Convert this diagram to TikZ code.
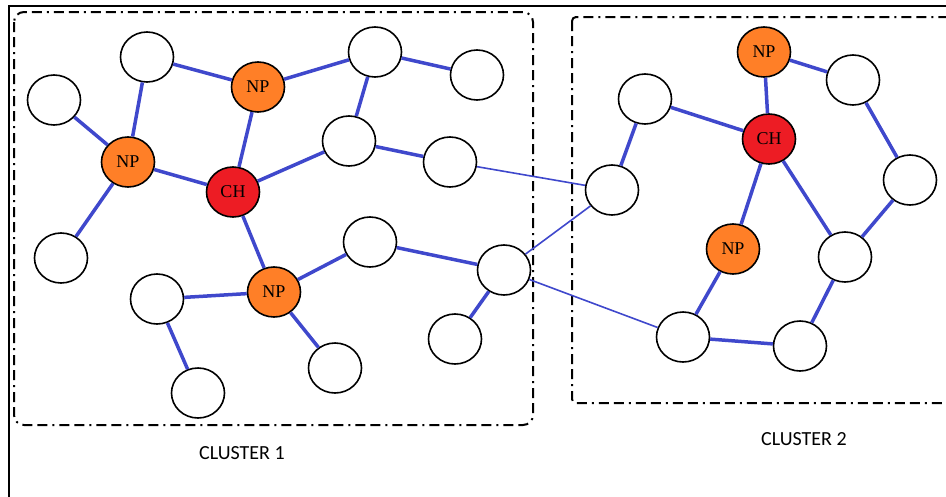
\documentclass[tikz,border=0pt]{standalone}
\usepackage{fontspec}
\setmainfont{Liberation Serif}
\newfontfamily\clusterfont{Carlito}
\usetikzlibrary{shapes.geometric}
\definecolor{edgeblue}{HTML}{3F48CC}
\definecolor{npfill}{HTML}{FF7F27}
\definecolor{chfill}{HTML}{ED1C24}
\tikzset{
  vertex/.style={ellipse,draw,fill=white,line width=1.6pt,minimum width=53pt,
    minimum height=50pt,inner sep=0pt,font=\fontsize{18}{18}\selectfont},
  np/.style={vertex,fill=npfill},
  ch/.style={vertex,fill=chfill},
  link/.style={draw=edgeblue,line width=3.5pt},
  farlink/.style={draw=edgeblue,line width=1.6pt},
  clusterbox/.style={line width=2pt,rounded corners=10pt,
    dash pattern=on 10pt off 5pt on 10pt off 5pt on 2pt off 5pt},
  clusterlabel/.style={font=\clusterfont\fontsize{20}{20}\selectfont}
}
\begin{document}
\begin{tikzpicture}[x=1pt,y=-1pt]
      \clip (0,0) rectangle (946,496);
      \draw[line width=2pt] (9,510) -- (9,6) -- (960,6);
      \draw[clusterbox] (14,12) rectangle (533,425);
      \draw[clusterbox,rounded corners=4pt] (572,17) rectangle (960,403);
      \node[clusterlabel] (c1) at (242,453) {CLUSTER 1};
      \node[clusterlabel] (c2) at (804,439) {CLUSTER 2};
      % cluster 1
      \draw
        (147,57) node[vertex] (0){}
        (54,100) node[vertex] (1){}
        (128,162) node[np] (2){NP}
        (258,87) node[np] (3){NP}
        (233,192) node[ch] (4){CH}
        (61,258) node[vertex] (5){}
        (375,52) node[vertex] (6){}
        (477,75) node[vertex] (7){}
        (349,141) node[vertex] (8){}
        (450,162) node[vertex] (9){}
        (370,242) node[vertex] (10){}
        (274,292) node[np] (11){NP}
        (157,299) node[vertex] (12){}
        (198,393) node[vertex] (13){}
        (335,368) node[vertex] (14){}
        (504,270) node[vertex] (15){}
        (455,339) node[vertex] (16){};
      % cluster 2
      \draw
        (612,190) node[vertex] (17){}
        (645,99) node[vertex] (18){}
        (764,52) node[np] (19){NP}
        (769,139) node[ch] (20){CH}
        (853,80) node[vertex] (21){}
        (910,180) node[vertex] (22){}
        (733,249) node[np] (23){NP}
        (845,257) node[vertex] (24){}
        (683,337) node[vertex] (25){}
        (800,346) node[vertex] (26){};
      \begin{scope}[link]
        \draw (0) to (3);
        \draw (0) to (2);
        \draw (1) to (2);
        \draw (2) to (4);
        \draw (2) to (5);
        \draw (3) to (4);
        \draw (3) to (6);
        \draw (6) to (7);
        \draw (6) to (8);
        \draw (4) to (8);
        \draw (8) to (9);
        \draw (4) to (11);
        \draw (11) to (12);
        \draw (12) to (13);
        \draw (11) to (14);
        \draw (11) to (10);
        \draw (10) to (15);
        \draw (15) to (16);
        \draw (17) to (18);
        \draw (18) to (20);
        \draw (19) to (20);
        \draw (19) to (21);
        \draw (21) to (22);
        \draw (22) to (24);
        \draw (20) to (24);
        \draw (20) to (23);
        \draw (23) to (25);
        \draw (25) to (26);
        \draw (26) to (24);
      \end{scope}
      \begin{scope}[farlink]
        \draw (9) to (17);
        \draw (15) to (17);
        \draw (15) to (25);
      \end{scope}
    \end{tikzpicture}
\end{document}
